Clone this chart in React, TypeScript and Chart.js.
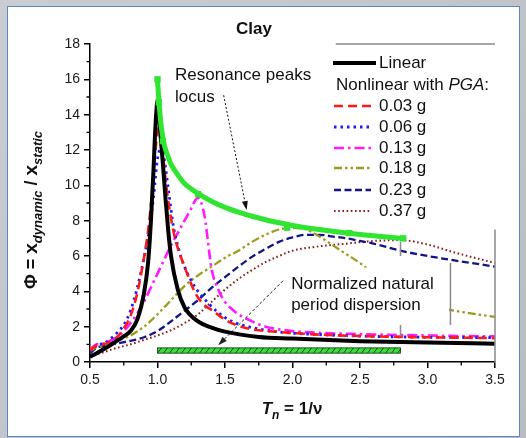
import React, { useEffect, useRef } from 'react';
import { Chart, registerables } from 'chart.js';

Chart.register(...registerables);

const FONT = '"Liberation Sans", Arial, Helvetica, sans-serif';

// ---------------- data ----------------
const linearT = [0.5, 0.55, 0.6, 0.65, 0.7, 0.75, 0.8, 0.85, 0.9, 0.93, 0.95, 0.97, 0.98, 0.99, 1.0, 1.01, 1.02, 1.04, 1.06, 1.08, 1.1, 1.15, 1.2, 1.3, 1.4, 1.5, 1.75, 2.0, 2.5, 3.0, 3.5];
const linearPhi = [0.3, 0.5, 0.72, 0.95, 1.2, 1.45, 1.75, 2.4, 3.9, 5.6, 7.8, 10.8, 12.6, 14.0, 14.8, 14.3, 13.1, 11.2, 9.2, 7.4, 6.0, 4.1, 3.1, 2.3, 1.95, 1.72, 1.42, 1.33, 1.18, 1.1, 1.04];

const pga003T = [0.5, 0.55, 0.6, 0.65, 0.7, 0.75, 0.8, 0.85, 0.9, 0.93, 0.96, 0.98, 1.0, 1.01, 1.02, 1.04, 1.06, 1.09, 1.13, 1.18, 1.23, 1.28, 1.35, 1.4, 1.5, 1.6, 1.7, 1.9, 2.2, 2.6, 3.0, 3.5];
const pga003Phi = [0.65, 0.95, 1.0, 1.15, 1.4, 1.9, 2.6, 3.9, 5.9, 7.4, 9.6, 11.6, 13.0, 13.3, 13.0, 11.8, 10.3, 8.6, 7.0, 5.8, 4.8, 3.9, 3.2, 2.95, 2.4, 2.05, 1.85, 1.7, 1.55, 1.45, 1.4, 1.35];

const pga006T = [0.5, 0.55, 0.6, 0.65, 0.7, 0.75, 0.8, 0.85, 0.9, 0.94, 0.97, 1.0, 1.02, 1.03, 1.05, 1.08, 1.12, 1.16, 1.2, 1.25, 1.3, 1.38, 1.45, 1.55, 1.7, 1.9, 2.2, 2.6, 3.0, 3.5];
const pga006Phi = [0.55, 0.95, 1.05, 1.3, 1.65, 2.1, 2.9, 4.2, 5.9, 7.5, 9.3, 11.5, 12.1, 12.2, 11.5, 9.8, 7.6, 6.3, 5.4, 4.6, 4.0, 3.3, 2.8, 2.3, 1.95, 1.7, 1.55, 1.45, 1.4, 1.38];

const pga013T = [0.5, 0.55, 0.6, 0.65, 0.7, 0.75, 0.8, 0.85, 0.9, 0.95, 1.0, 1.05, 1.1, 1.15, 1.2, 1.25, 1.28, 1.3, 1.32, 1.35, 1.4, 1.45, 1.5, 1.55, 1.6, 1.7, 1.8, 2.0, 2.2, 2.5, 3.0, 3.5];
const pga013Phi = [0.72, 1.0, 1.05, 1.2, 1.4, 1.75, 2.2, 2.75, 3.4, 4.2, 5.0, 5.8, 6.6, 7.3, 8.0, 8.7, 9.15, 9.3, 9.1, 8.2, 5.3, 4.1, 3.4, 3.0, 2.7, 2.3, 2.0, 1.75, 1.65, 1.58, 1.5, 1.45];

const pga018T = [0.5, 0.55, 0.6, 0.7, 0.8, 0.9, 1.0, 1.1, 1.2, 1.3, 1.4, 1.5, 1.6, 1.7, 1.8, 1.9, 2.0, 2.1, 2.2, 2.3, 2.4, 2.5, 2.6, 2.7, 2.8, 2.9, 3.0, 3.2, 3.5];
const pga018Phi = [0.6, 0.85, 0.95, 1.2, 1.5, 2.0, 2.7, 3.5, 4.3, 4.9, 5.4, 5.9, 6.3, 6.8, 7.2, 7.5, 7.6, 7.5, 7.1, 6.6, 6.1, 5.6, 5.0, 4.4, 3.9, 3.5, 3.2, 2.9, 2.55];

const pga023T = [0.5, 0.55, 0.6, 0.7, 0.8, 0.9, 1.0, 1.1, 1.2, 1.3, 1.4, 1.5, 1.6, 1.7, 1.8, 1.9, 2.0, 2.1, 2.2, 2.3, 2.4, 2.5, 2.6, 2.8, 3.0, 3.2, 3.5];
const pga023Phi = [0.5, 0.8, 0.9, 1.05, 1.2, 1.4, 1.75, 2.3, 2.9, 3.5, 4.2, 4.8, 5.4, 5.95, 6.4, 6.8, 7.05, 7.2, 7.2, 7.1, 7.0, 6.85, 6.7, 6.3, 6.0, 5.75, 5.4];

const pga037T = [0.5, 0.6, 0.7, 0.8, 0.9, 1.0, 1.1, 1.2, 1.3, 1.4, 1.5, 1.6, 1.7, 1.8, 1.9, 2.0, 2.2, 2.4, 2.6, 2.8, 3.0, 3.2, 3.4, 3.5];
const pga037Phi = [0.3, 0.55, 0.8, 1.0, 1.25, 1.5, 1.8, 2.2, 2.7, 3.4, 4.1, 4.7, 5.2, 5.65, 6.0, 6.3, 6.55, 6.7, 6.85, 6.9, 6.65, 6.2, 5.8, 5.6];

const locusT = [1.0, 1.01, 1.02, 1.03, 1.05, 1.08, 1.1, 1.15, 1.2, 1.3, 1.4, 1.5, 1.6, 1.7, 1.8, 1.9, 2.0, 2.2, 2.4, 2.6, 2.8];
const locusPhi = [16.0, 14.8, 13.9, 13.2, 12.3, 11.6, 11.2, 10.6, 10.1, 9.55, 9.1, 8.75, 8.48, 8.25, 8.05, 7.88, 7.73, 7.5, 7.3, 7.14, 7.0];

const peakT = [1.0, 1.01, 1.04, 1.3, 1.96, 2.42, 2.82];
const peakPhi = [16.0, 14.7, 12.5, 9.5, 7.6, 7.3, 7.0];

const seriesLabels = ['0.03 g', '0.06 g', '0.13 g', '0.18 g', '0.23 g', '0.37 g'];
const linearLabel = 'Linear';

const xMin = 0.5, xMax = 3.5, xStep = 0.5;
const yMin = 0, yMax = 18, yStep = 2;
const xMinorTicks = [0.75, 1.25, 1.75, 2.25, 2.75, 3.25];
const yMinorTicks = [1, 3, 5, 7, 9, 11, 13, 15, 17];

const dispersionRange = [1.0, 2.8];
const dispersionBand = [0.5, 0.8];

// ---------------- helpers ----------------
const pts = (t: number[], p: number[]) => t.map((v, i) => ({ x: v, y: p[i] }));

const GREEN = '#2fe52f';

const seriesStyle = [
  { color: '#ff1a1a', width: 2.6, dash: [9, 5] },
  { color: '#1a1aff', width: 2.8, dash: [2.5, 4] },
  { color: '#ff1aff', width: 2.6, dash: [10, 4, 2.5, 4] },
  { color: '#9c9c1c', width: 2.3, dash: [8, 3, 2.5, 3, 2.5, 3] },
  { color: '#14148a', width: 2.3, dash: [7, 3.5] },
  { color: '#8b1c1c', width: 2.0, dash: [1.6, 2.6] },
];

const seriesData = [
  pts(pga003T, pga003Phi),
  pts(pga006T, pga006Phi),
  pts(pga013T, pga013Phi),
  pts(pga018T, pga018Phi),
  pts(pga023T, pga023Phi),
  pts(pga037T, pga037Phi),
];

function arrow(ctx: CanvasRenderingContext2D, x0: number, y0: number, x1: number, y1: number, dash: number[], color: string) {
  ctx.save();
  ctx.strokeStyle = color;
  ctx.fillStyle = color;
  ctx.lineWidth = 1;
  ctx.setLineDash(dash);
  const ang = Math.atan2(y1 - y0, x1 - x0);
  const hl = 9, hw = 3;
  const bx = x1 - hl * Math.cos(ang), by = y1 - hl * Math.sin(ang);
  ctx.beginPath();
  ctx.moveTo(x0, y0);
  ctx.lineTo(bx, by);
  ctx.stroke();
  ctx.setLineDash([]);
  ctx.beginPath();
  ctx.moveTo(x1, y1);
  ctx.lineTo(bx + hw * Math.sin(ang), by - hw * Math.cos(ang));
  ctx.lineTo(bx - hw * Math.sin(ang), by + hw * Math.cos(ang));
  ctx.closePath();
  ctx.fill();
  ctx.restore();
}

type Seg = { t: string; f: string; dy?: number };
function richText(ctx: CanvasRenderingContext2D, segs: Seg[], cx: number, cy: number, rot: number) {
  ctx.save();
  ctx.translate(cx, cy);
  ctx.rotate(rot);
  ctx.textBaseline = 'alphabetic';
  ctx.textAlign = 'left';
  let total = 0;
  const w = segs.map(s => { ctx.font = s.f; const m = ctx.measureText(s.t).width; total += m; return m; });
  let x = -total / 2;
  segs.forEach((s, i) => {
    ctx.font = s.f;
    ctx.fillText(s.t, x, 6 + (s.dy || 0));
    x += w[i];
  });
  ctx.restore();
}

const decorPlugin = {
  id: 'decor',
  afterDatasetsDraw(chart: any) {
    const { ctx, chartArea: a, scales } = chart;
    const xs = scales.x, ys = scales.y;
    const X = (v: number) => xs.getPixelForValue(v);
    const Y = (v: number) => ys.getPixelForValue(v);
    ctx.save();

    // white box behind the dispersion note
    ctx.fillStyle = '#ffffff';
    ctx.fillRect(X(1.97), Y(5.35), X(3.16) - X(1.97), Y(2.15) - Y(5.35));

    // gray frame fragments
    ctx.strokeStyle = '#8a8a8a';
    ctx.lineWidth = 1.5;
    ctx.beginPath();
    ctx.moveTo(X(2.32), Y(18)); ctx.lineTo(X(3.5), Y(18));
    ctx.moveTo(X(3.5), Y(7.5)); ctx.lineTo(X(3.5), Y(0));
    ctx.moveTo(X(2.8), Y(6.8)); ctx.lineTo(X(2.8), Y(6.0));
    ctx.moveTo(X(2.8), Y(2.1)); ctx.lineTo(X(2.8), Y(1.45));
    ctx.moveTo(X(3.17), Y(5.6)); ctx.lineTo(X(3.17), Y(2.1));
    ctx.stroke();

    // minor ticks
    ctx.strokeStyle = '#000';
    ctx.lineWidth = 1.3;
    ctx.beginPath();
    xMinorTicks.forEach(v => { ctx.moveTo(X(v), a.bottom); ctx.lineTo(X(v), a.bottom + 3.5); });
    yMinorTicks.forEach(v => { ctx.moveTo(a.left - 3.5, Y(v)); ctx.lineTo(a.left, Y(v)); });
    ctx.stroke();

    // hatched dispersion bar
    const bx0 = X(dispersionRange[0]), bx1 = X(dispersionRange[1]);
    const by0 = Y(dispersionBand[1]), by1 = Y(dispersionBand[0]);
    ctx.fillStyle = '#3ddc3d';
    ctx.fillRect(bx0, by0, bx1 - bx0, by1 - by0);
    ctx.save();
    ctx.beginPath();
    ctx.rect(bx0, by0, bx1 - bx0, by1 - by0);
    ctx.clip();
    ctx.strokeStyle = '#145214';
    ctx.lineWidth = 1;
    ctx.beginPath();
    for (let xx = bx0 - 6; xx < bx1 + 6; xx += 6) {
      ctx.moveTo(xx, by1);
      ctx.lineTo(xx + 4, by0);
    }
    ctx.stroke();
    ctx.restore();
    ctx.strokeStyle = '#0a300a';
    ctx.lineWidth = 0.8;
    ctx.strokeRect(bx0, by0, bx1 - bx0, by1 - by0);

    // annotations
    ctx.fillStyle = '#111';
    ctx.font = `17px ${FONT}`;
    ctx.textBaseline = 'middle';
    ctx.textAlign = 'left';
    ctx.fillText('Resonance peaks', X(1.13), Y(16.2));
    ctx.fillText('locus', X(1.13), Y(15.0));
    ctx.fillText('Normalized natural', X(1.99), Y(4.39));
    ctx.fillText('period dispersion', X(1.99), Y(3.2));
    arrow(ctx, X(1.49), Y(15.1), X(1.66), Y(8.6), [2, 2], '#111');
    arrow(ctx, X(1.93), Y(4.6), X(1.45), Y(0.95), [3, 2], '#222');

    ctx.restore();
  },
  afterDraw(chart: any) {
    const { ctx } = chart;
    const dsets = chart.data.datasets;
    ctx.save();
    // title
    ctx.fillStyle = '#111';
    ctx.font = `bold 17px ${FONT}`;
    ctx.textAlign = 'center';
    ctx.textBaseline = 'middle';
    ctx.fillText('Clay', 254, 29);

    // legend
    ctx.textAlign = 'left';
    ctx.textBaseline = 'middle';
    const lin = dsets[2];
    ctx.strokeStyle = lin.borderColor;
    ctx.lineWidth = 4;
    ctx.setLineDash([]);
    ctx.beginPath(); ctx.moveTo(333, 63); ctx.lineTo(376, 63); ctx.stroke();
    ctx.font = `17px ${FONT}`;
    ctx.fillText(linearLabel, 379, 63);
    ctx.font = `17px ${FONT}`;
    let hx = 336;
    ctx.fillText('Nonlinear with ', hx, 85);
    hx += ctx.measureText('Nonlinear with ').width;
    ctx.font = `italic 17px ${FONT}`;
    ctx.fillText('PGA', hx, 85);
    hx += ctx.measureText('PGA').width;
    ctx.font = `17px ${FONT}`;
    ctx.fillText(':', hx, 85);
    const ly = [106, 127, 148, 168, 190, 211];
    seriesLabels.forEach((lab, i) => {
      const d = dsets[3 + i];
      ctx.save();
      ctx.strokeStyle = d.borderColor;
      ctx.lineWidth = d.borderWidth;
      ctx.setLineDash(d.borderDash);
      ctx.beginPath(); ctx.moveTo(334, ly[i]); ctx.lineTo(371, ly[i]); ctx.stroke();
      ctx.restore();
      ctx.fillStyle = '#111';
      ctx.font = `17px ${FONT}`;
      ctx.fillText(lab, 379, ly[i]);
    });

    // axis titles
    ctx.fillStyle = '#111';
    richText(ctx, [
      { t: 'T', f: `italic bold 17px ${FONT}` },
      { t: 'n', f: `italic bold 12px ${FONT}`, dy: 5 },
      { t: ' = 1/\u03bd', f: `bold 17px ${FONT}` },
    ], 292, 408, 0);
    richText(ctx, [
      { t: '\u03a6 = ', f: `bold 18px ${FONT}` },
      { t: 'x', f: `bold 19px ${FONT}` },
      { t: 'dynamic', f: `italic bold 13px ${FONT}`, dy: 5 },
      { t: ' / ', f: `bold 18px ${FONT}` },
      { t: 'x', f: `bold 19px ${FONT}` },
      { t: 'static', f: `italic bold 13px ${FONT}`, dy: 5 },
    ], 31, 210, -Math.PI / 2);
    ctx.restore();
  },
};

export default function App() {
  const ref = useRef<HTMLCanvasElement | null>(null);
  useEffect(() => {
    if (!ref.current) return;
    const datasets: any[] = [
      {
        label: 'locus', data: pts(locusT, locusPhi), borderColor: GREEN, borderWidth: 5,
        pointRadius: 0, cubicInterpolationMode: 'monotone', borderCapStyle: 'round', borderJoinStyle: 'round', order: 0,
      },
      {
        label: 'peaks', data: pts(peakT, peakPhi), showLine: false, pointStyle: 'rect',
        pointRadius: 4.5, backgroundColor: GREEN, borderColor: GREEN, borderWidth: 0, order: 0,
      },
      {
        label: linearLabel, data: pts(linearT, linearPhi), borderColor: '#000', borderWidth: 4,
        pointRadius: 0, cubicInterpolationMode: 'monotone', order: 1,
      },
      ...seriesLabels.map((lab, i) => ({
        label: lab, data: seriesData[i], borderColor: seriesStyle[i].color,
        borderWidth: seriesStyle[i].width, borderDash: seriesStyle[i].dash,
        pointRadius: 0, cubicInterpolationMode: 'monotone', order: 2 + i, fill: false,
      })),
    ];
    const chart = new Chart(ref.current, {
      type: 'line',
      data: { datasets },
      options: {
        responsive: false,
        animation: false,
        devicePixelRatio: 1,
        layout: { padding: { left: 0, top: 44, right: 31, bottom: 0 } },
        plugins: { legend: { display: false }, tooltip: { enabled: false }, title: { display: false } },
        scales: {
          x: {
            type: 'linear', min: xMin, max: xMax,
            ticks: {
              stepSize: xStep, autoSkip: false, maxRotation: 0, padding: 4,
              color: '#1a1a1a', font: { family: FONT, size: 14 },
              callback: (v: any) => Number(v).toFixed(1),
            },
            grid: { display: true, drawOnChartArea: false, drawTicks: true, tickLength: 6, color: '#000', lineWidth: 1.5 },
            border: { display: true, color: '#000', width: 1.5 },
            afterFit: (s: any) => { s.height = 76; },
          },
          y: {
            type: 'linear', min: yMin, max: yMax,
            ticks: {
              stepSize: yStep, padding: 4, color: '#1a1a1a', font: { family: FONT, size: 14 },
            },
            grid: { display: true, drawOnChartArea: false, drawTicks: true, tickLength: 6, color: '#000', lineWidth: 1.5 },
            border: { display: true, color: '#000', width: 1.5 },
            afterFit: (s: any) => { s.width = 90; },
          },
        },
      },
      plugins: [decorPlugin],
    } as any);
    return () => chart.destroy();
  }, []);

  return (
    <div style={{ position: 'fixed', left: 0, top: 0, width: 526, height: 438, background: 'linear-gradient(135deg,#c9ccd0,#b9bdc2)' }}>
      <div style={{ position: 'absolute', left: 7, top: 6, width: 511, height: 429, background: '#fff', border: '1px solid #5b88c8' }} />
      <canvas ref={ref} width={526} height={438} style={{ position: 'absolute', left: 0, top: 0, width: 526, height: 438 }} />
    </div>
  );
}
